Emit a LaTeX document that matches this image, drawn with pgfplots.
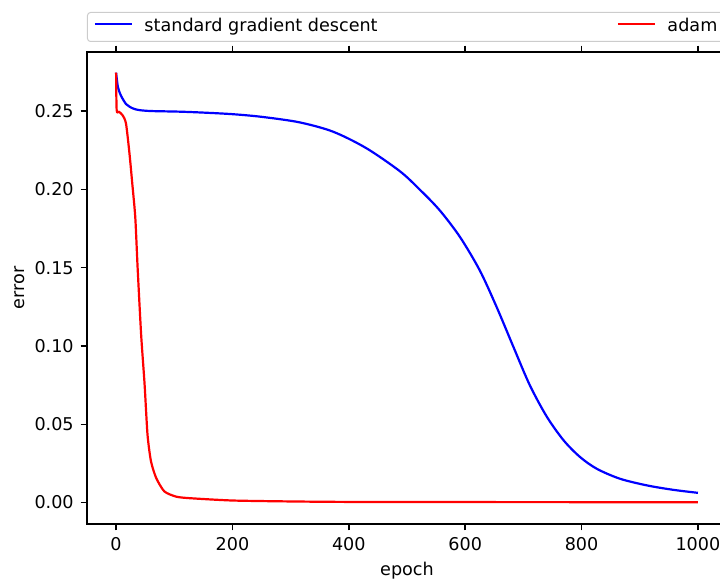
\documentclass[border=0pt]{standalone}
\usepackage{fontspec}
\setmainfont{DejaVu Sans}
\usepackage{pgfplots}
\pgfplotsset{compat=1.18}

% error per epoch
\pgfplotstableread{
epoch err
0    0.2745
3    0.2656
7    0.2610
11   0.2580
17   0.2545
23   0.2528
30   0.2515
40   0.2506
60   0.2500
109  0.2496
150  0.2490
200  0.2480
250  0.2463
315  0.2428
373  0.2368
430  0.2263
488  0.2115
522  0.1998
556  0.1867
591  0.1696
625  0.1483
654  0.1249
683  0.0993
711  0.0750
740  0.0550
769  0.0398
797  0.0292
826  0.0216
866  0.0152
913  0.0109
958  0.0081
1000 0.0062
}\sgd

\pgfplotstableread{
epoch err
0    0.2745
1    0.2506
5    0.2495
11   0.2474
17   0.2421
23   0.2229
28   0.2030
33   0.1820
37   0.1500
43   0.1075
49   0.0754
54   0.0434
60   0.0263
69   0.0156
83   0.0071
103  0.0038
126  0.0028
200  0.0013
300  0.0007
400  0.0004
600  0.0003
1000 0.0002
}\adam

\begin{document}
\fontsize{17.6bp}{21bp}\selectfont
\begin{tikzpicture}
\begin{axis}[
  at={(0,0)}, anchor=south west,
  scale only axis, width=640bp, height=472bp,
  xmin=-50, xmax=1050, ymin=-0.0137, ymax=0.2877,
  xtick={0,200,400,600,800,1000},
  ytick={0,0.05,0.10,0.15,0.20,0.25},
  scaled y ticks=false,
  /pgf/number format/assume math mode=true,
  xticklabel style={/pgf/number format/1000 sep={}, anchor=north, inner sep=0pt, yshift=-6.5bp},
  yticklabel style={/pgf/number format/.cd, fixed, fixed zerofill, precision=2,
    /tikz/.cd, anchor=east, inner sep=0pt, xshift=-6.8bp},
  tick align=outside, major tick length=6.3bp,
  tick style={black, line width=1.4bp},
  axis line style={line width=1.4bp},
  xlabel={epoch}, ylabel={error},
  xlabel style={at={(axis description cs:0.5,0)}, anchor=base, yshift=-51bp},
  ylabel style={at={(axis description cs:-0.105,0.5)}, anchor=center},
  legend columns=2,
  legend cell align=left,
  legend image code/.code={\path[draw=none, fill=none] (0bp,-8.5bp) rectangle (57bp,8.5bp);
    \draw[#1] (7.5bp,3.2bp) -- (45bp,3.2bp);},
  legend style={at={(axis description cs:0,1)}, anchor=south west, yshift=10bp,
    draw=black!20, line width=1bp, rounded corners=3bp, fill=white,
    inner xsep=0pt, inner ysep=6bp, /tikz/column sep=0pt,
    nodes={inner sep=0pt, text height=13bp, text depth=4bp}},
]
\addplot[blue, line width=2.2bp, smooth, tension=0.5] table[x=epoch, y=err] {\sgd};
\addlegendentry{\makebox[466bp][l]{standard gradient descent}}
\addplot[red, line width=2.2bp, smooth, tension=0.4] table[x=epoch, y=err] {\adam};
\addlegendentry{\makebox[60bp][l]{adam}}
\end{axis}
\pgfresetboundingbox
\path[use as bounding box] (-87bp,-56bp) rectangle (633bp,524bp);
\end{tikzpicture}
\end{document}
